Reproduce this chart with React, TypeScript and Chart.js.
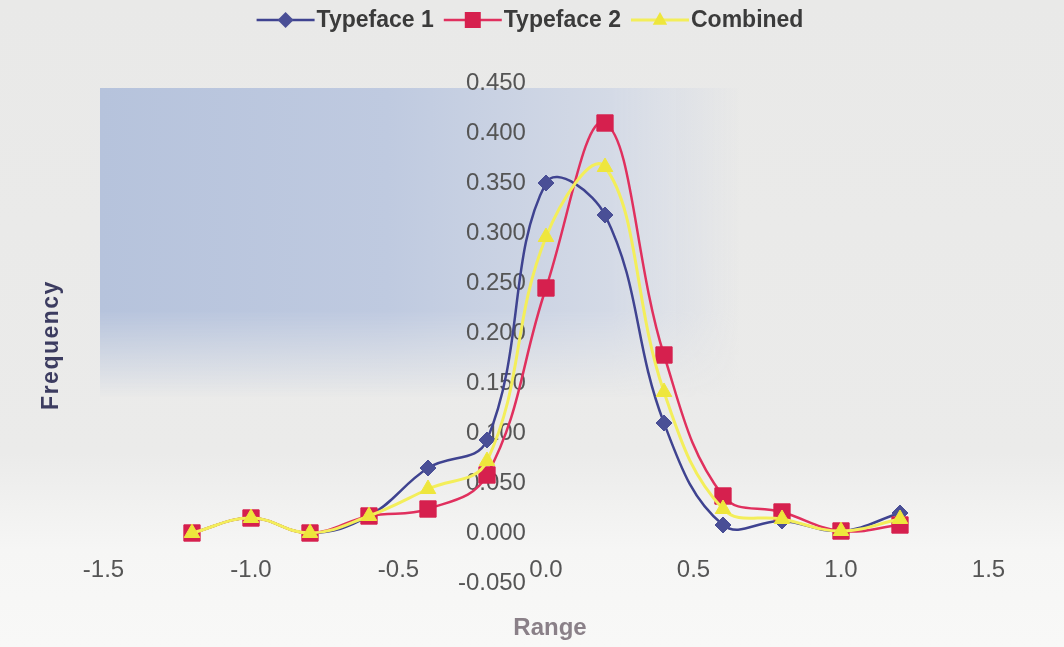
import React, { useEffect, useRef } from "react";
import { Chart, registerables } from "chart.js";

Chart.register(...registerables);

// ---- data ----
const rangeValues = [-1.2, -1.0, -0.8, -0.6, -0.4, -0.2, 0.0, 0.2, 0.4, 0.6, 0.8, 1.0, 1.2];
const typeface1 = [0.0, 0.015, 0.0, 0.017, 0.065, 0.093, 0.350, 0.318, 0.110, 0.008, 0.012, 0.002, 0.020];
const typeface2 = [0.0, 0.015, 0.0, 0.017, 0.024, 0.058, 0.245, 0.410, 0.178, 0.037, 0.021, 0.002, 0.008];
const combined = [0.0, 0.015, 0.0, 0.017, 0.044, 0.072, 0.296, 0.366, 0.141, 0.024, 0.014, 0.002, 0.014];
const seriesNames = ["Typeface 1", "Typeface 2", "Combined"];
const xTickValues = [-1.5, -1.0, -0.5, 0.0, 0.5, 1.0, 1.5];
const yTickValues = [-0.05, 0.0, 0.05, 0.1, 0.15, 0.2, 0.25, 0.3, 0.35, 0.4, 0.45];
const xTitle = "Range";
const yTitle = "Frequency";

const NAVY = "#3f4390";
const NAVY_PT = "#4a4f96";
const RED = "#e0305e";
const RED_PT = "#d6204e";
const YEL = "#f3ee5a";
const YEL_PT = "#eee63c";

const toPts = (ys: number[]) => rangeValues.map((x, i) => ({ x, y: ys[i] }));

const legendPlugin = {
  id: "excelLegend",
  afterDraw(chart: any) {
    const ctx = chart.ctx as CanvasRenderingContext2D;
    const ds = chart.data.datasets;
    ctx.save();
    ctx.font = "bold 23px 'Liberation Sans', Arial, sans-serif";
    ctx.textBaseline = "middle";
    ctx.textAlign = "left";
    const lineLen = 58;
    const gapAfterLine = 2;
    const gapAfterText = 10;
    const widths = ds.map((d: any) => ctx.measureText(d.label).width);
    const total = widths.reduce((a: number, w: number) => a + lineLen + gapAfterLine + w, 0) + gapAfterText * (ds.length - 1);
    let x = 530 - total / 2;
    const y = 20;
    ds.forEach((d: any, i: number) => {
      ctx.strokeStyle = d.borderColor;
      ctx.lineWidth = d.borderWidth;
      ctx.beginPath();
      ctx.moveTo(x, y);
      ctx.lineTo(x + lineLen, y);
      ctx.stroke();
      const cx = x + lineLen / 2;
      ctx.fillStyle = d.pointBackgroundColor;
      ctx.beginPath();
      const r = 8;
      if (d.pointStyle === "rectRot") {
        ctx.moveTo(cx, y - r);
        ctx.lineTo(cx + r, y);
        ctx.lineTo(cx, y + r);
        ctx.lineTo(cx - r, y);
      } else if (d.pointStyle === "rect") {
        ctx.rect(cx - r, y - r, r * 2, r * 2);
      } else {
        ctx.moveTo(cx, y - r);
        ctx.lineTo(cx + r * 0.9, y + r * 0.6);
        ctx.lineTo(cx - r * 0.9, y + r * 0.6);
      }
      ctx.closePath();
      ctx.fill();
      x += lineLen + gapAfterLine;
      ctx.fillStyle = "#3b3b3b";
      ctx.fillText(d.label, x, y + 1);
      x += widths[i] + gapAfterText;
    });
    ctx.restore();
  },
};

const titlesPlugin = {
  id: "axisTitles",
  afterDraw(chart: any) {
    const ctx = chart.ctx as CanvasRenderingContext2D;
    ctx.save();
    ctx.textAlign = "center";
    ctx.textBaseline = "middle";
    ctx.font = "bold 24px 'Liberation Sans', Arial, sans-serif";
    ctx.fillStyle = "#8a8088";
    ctx.fillText(xTitle, 550, 628);
    ctx.translate(52, 345);
    ctx.rotate(-Math.PI / 2);
    ctx.fillStyle = "#3c3c60";
    (ctx as any).letterSpacing = "1.5px";
    ctx.font = "bold 23px 'Liberation Sans', Arial, sans-serif";
    ctx.fillText(yTitle, 0, 0);
    ctx.restore();
  },
};

export default function App() {
  const ref = useRef<HTMLCanvasElement | null>(null);

  useEffect(() => {
    document.body.style.margin = "0";
    document.body.style.background = "#ececeb";
    if (!ref.current) return;
    const chart = new Chart(ref.current, {
      type: "line",
      data: {
        datasets: [
          {
            label: seriesNames[0],
            data: toPts(typeface1),
            borderColor: NAVY,
            borderWidth: 2.5,
            pointStyle: "rectRot",
            pointRadius: 8,
            pointBackgroundColor: NAVY_PT,
            pointBorderColor: NAVY_PT,
            pointBorderWidth: 1,
            tension: 0.4,
            order: 2,
          },
          {
            label: seriesNames[1],
            data: toPts(typeface2),
            borderColor: RED,
            borderWidth: 2.5,
            pointStyle: "rect",
            pointRadius: 11.5,
            pointBackgroundColor: RED_PT,
            pointBorderColor: RED_PT,
            pointBorderWidth: 1,
            tension: 0.4,
            order: 1,
          },
          {
            label: seriesNames[2],
            data: toPts(combined),
            borderColor: YEL,
            borderWidth: 3,
            pointStyle: "triangle",
            pointRadius: 9,
            pointBackgroundColor: YEL_PT,
            pointBorderColor: YEL_PT,
            pointBorderWidth: 1,
            tension: 0.4,
            order: 0,
          },
        ] as any,
      },
      options: {
        animation: false,
        responsive: true,
        maintainAspectRatio: false,
        layout: { padding: { left: 103.5, right: 75.5, top: 83, bottom: 64 } },
        plugins: { legend: { display: false }, tooltip: { enabled: false } },
        scales: {
          x: {
            type: "linear",
            min: -1.5,
            max: 1.5,
            position: { y: -0.019 } as any,
            grid: { display: false, drawTicks: false },
            border: { display: false },
            afterBuildTicks: (scale: any) => {
              scale.ticks = xTickValues.map((v) => ({ value: v }));
            },
            ticks: {
              autoSkip: false,
              maxRotation: 0,
              padding: 4,
              color: "#555555",
              font: { family: "'Liberation Sans', Arial, sans-serif", size: 24 },
              callback: (v: any) => Number(v).toFixed(1),
            },
          },
          y: {
            type: "linear",
            min: -0.05,
            max: 0.45,
            position: { x: -0.068 } as any,
            grid: { display: false, drawTicks: false },
            border: { display: false },
            afterBuildTicks: (scale: any) => {
              scale.ticks = yTickValues.map((v) => ({ value: v }));
            },
            ticks: {
              autoSkip: false,
              padding: 0,
              color: "#555555",
              font: { family: "'Liberation Sans', Arial, sans-serif", size: 24 },
              callback: (v: any) => Number(v).toFixed(3),
            },
          },
        },
      },
      plugins: [legendPlugin, titlesPlugin],
    });
    return () => chart.destroy();
  }, []);

  return (
    <div style={{ position: "absolute", left: 0, top: 0, width: 1064, height: 647, overflow: "hidden", background: "linear-gradient(to bottom, #e9e9e8 0%, #ebebea 70%, #f6f6f5 85%, #f8f8f7 100%)" }}>
      <div
        style={{
          position: "absolute",
          left: 100,
          top: 88,
          width: 640,
          height: 310,
          background: "linear-gradient(90deg, #b6c3dc 0%, #bfcae0 45%, #d4dae6 80%, rgba(225,228,234,0) 100%)",
          WebkitMaskImage: "linear-gradient(to bottom, black 0%, black 72%, transparent 100%)",
          maskImage: "linear-gradient(to bottom, black 0%, black 72%, transparent 100%)",
        }}
      />
      <canvas ref={ref} style={{ position: "absolute", left: 0, top: 0, width: 1064, height: 647 }} />
    </div>
  );
}
